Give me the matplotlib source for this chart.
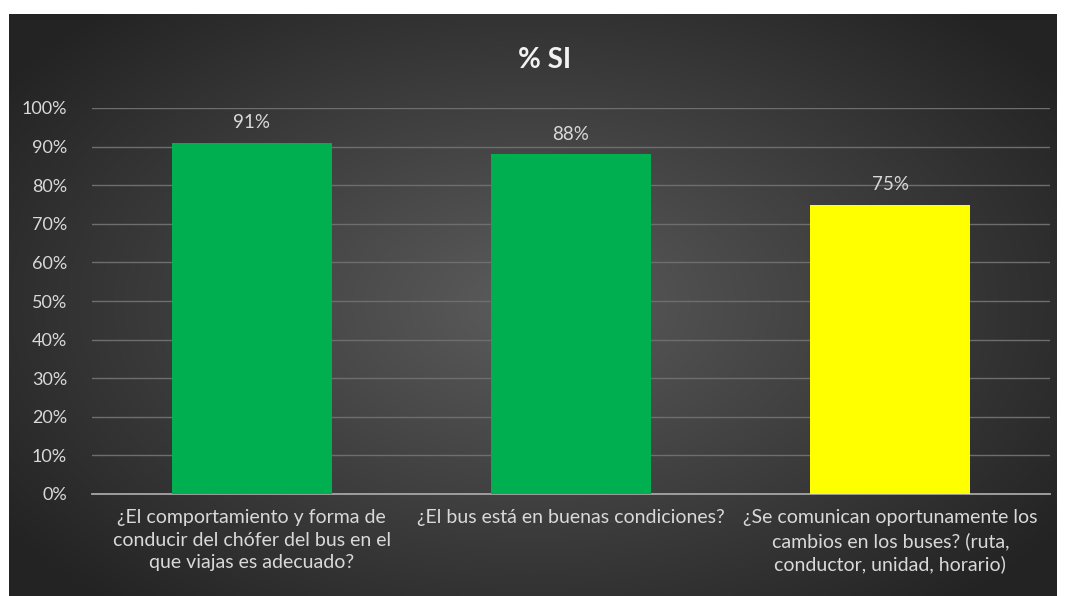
import numpy as np
import matplotlib
matplotlib.use("Agg")
import matplotlib.pyplot as plt

# survey answers, share of "yes"
preguntas = [
    "¿El comportamiento y forma de\nconducir del chófer del bus en el\nque viajas es adecuado?",
    "¿El bus está en buenas condiciones?",
    "¿Se comunican oportunamente los\ncambios en los buses? (ruta,\nconductor, unidad, horario)",
]
pct_si = [91, 88, 75]
colores = ["#00b050", "#00b050", "#ffff00"]
ticks = list(range(0, 101, 10))

plt.rcParams["font.family"] = ["Lato", "DejaVu Sans"]
txt = "#d9d9d9"

fig = plt.figure(figsize=(10.65, 5.96), dpi=100, facecolor="white")

# dark panel with a soft radial gradient behind the chart
bg = fig.add_axes([9 / 1065, 0, 1048 / 1065, 582 / 596])
yy, xx = np.mgrid[-1:1:300j, -1:1:500j]
r = np.sqrt(xx ** 2 + (yy * 0.9) ** 2)
shade = np.clip(0.36 - 0.18 * r, 0.14, 0.36)
bg.imshow(np.dstack([shade] * 3), aspect="auto", extent=[0, 1, 0, 1])
bg.set_axis_off()

ax = fig.add_axes([92 / 1065, (596 - 494) / 596, 958 / 1065, 386 / 596])
ax.patch.set_alpha(0)
x = np.arange(len(pct_si))
ax.bar(x, pct_si, width=0.5, color=colores, zorder=3)
for xi, v in zip(x, pct_si):
    ax.text(xi, v + 3, f"{v}%", ha="center", va="bottom", color=txt, fontsize=13.5)

ax.set_xlim(-0.5, 2.5)
ax.set_ylim(0, 100)
ax.set_yticks(ticks)
ax.set_yticklabels([f"{t}%" for t in ticks], color=txt, fontsize=13)
ax.set_xticks(x)
ax.set_xticklabels(preguntas, color=txt, fontsize=14, linespacing=1.38)
ax.tick_params(length=0, pad=11)
ax.tick_params(axis="y", pad=18)
ax.grid(axis="y", color="#6e6e6e", lw=1, zorder=0)
for s in ["top", "right", "left"]:
    ax.spines[s].set_visible(False)
ax.spines["bottom"].set_color("#a6a6a6")
ax.spines["bottom"].set_linewidth(1.3)

fig.text(545 / 1065, 1 - 60 / 596, "% SI", ha="center", va="center",
         color="#f2f2f2", fontsize=20, fontweight="bold")

fig.savefig("out.png", dpi=100, facecolor="white")
